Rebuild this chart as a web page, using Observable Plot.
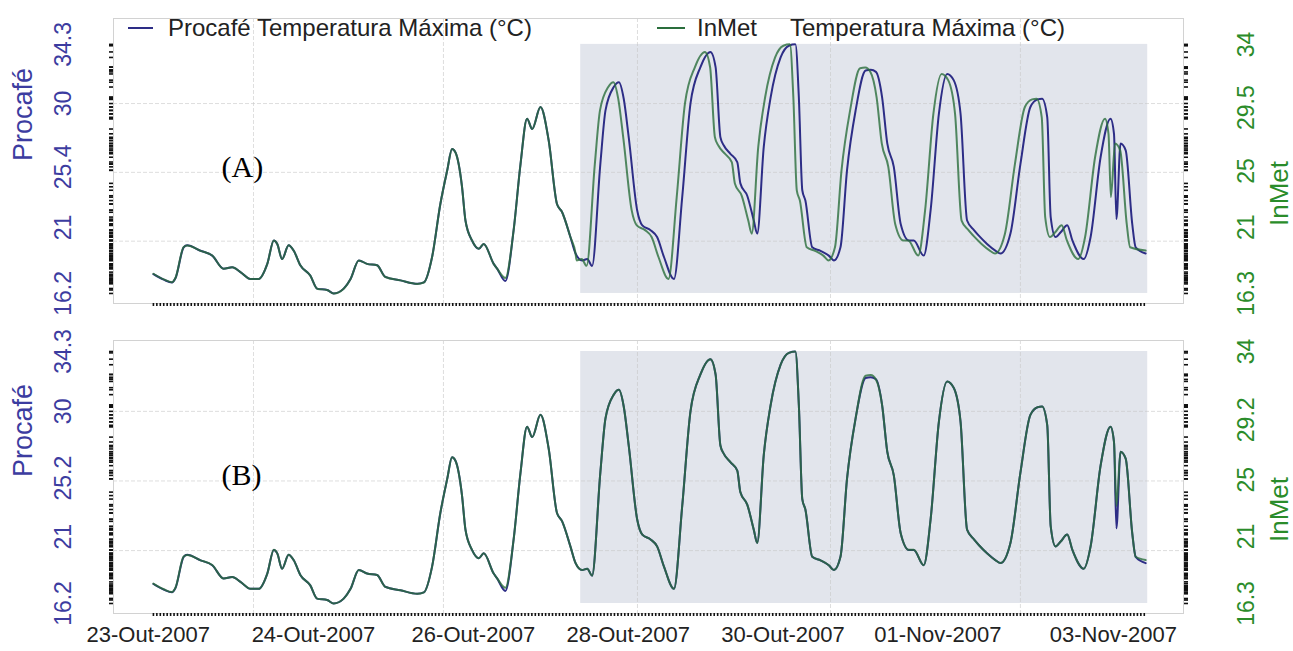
<!DOCTYPE html>
<html><head><meta charset="utf-8">
<script src="https://cdn.jsdelivr.net/npm/d3@7"></script>
<script src="https://cdn.jsdelivr.net/npm/@observablehq/plot@0.6"></script>
<style>
body{margin:0;background:#fff;}
#wrap{position:relative;width:1293px;height:651px;overflow:hidden;font-family:"Liberation Sans",Arial,sans-serif;}
#wrap svg{display:block}
.leg{position:absolute;font-size:24px;color:#222;white-space:nowrap;line-height:24px}
.sw{position:absolute;height:0;border-top:2px solid}
</style></head><body><div id="wrap"></div>
<script>
// hours since 23-Out-2007 00:00 (vertices)
const hours = [0,3.0,5.4,6.4,8.8,9.8,13.7,17.1,20.4,22.9,25.3,28.2,30.6,33.1,35.0,36.0,37.4,39.3,40.8,42.7,45.6,47.6,50.5,52.4,55.3,57.3,59.7,62.1,65.0,67.4,71.8,76.7,78.6,81.0,83.4,85.4,86.8,87.8,89.7,90.7,92.6,94.6,96.0,98.9,99.9,102.3,104.7,106.7,108.6,110.1,112.5,114.9,117.3,118.8,121.2,122.7,
124.6,126.1,127.5,129.9,131.4,133.8,135.3,136.7,138.2,140.6,142.1,144.5,146.4,148.4,151.3,153.7,156.1,159.0,161.9,163.4,164.8,165.8,167.7,169.7,170.6,172.6,174.5,175.5,177.4,179.4,182.3,184.7,186.6,187.6,188.6,189.5,191.5,193.9,196.3,197.8,199.7,201.6,204.1,207.0,208.5,210.0,211.8,213.3,215.2,217.2,219.6,221.0,223.9,225.9,228.3,230.7,232.6,234.6,236.5,238.5,239.9,242.3,244.8,246.2,249.1,252.0,254.9,257.0,258.3,259.8,260.8,262.2,263.7,265.6,267.1,270.4,272.4,275.3,278.2,279.2,279.9,281.1,282.6,284.5,285.5,288.4];
// Procafé temperatura máxima (°C)
const procafe = [17.6,17.2,17.0,17.3,19.55,19.7,19.3,18.95,18.0,18.1,17.75,17.25,17.25,18.35,20.05,19.8,18.7,19.7,19.3,18.25,17.5,16.55,16.45,16.2,16.55,17.25,18.6,18.35,18.25,17.4,17.15,16.9,17.0,18.85,22.7,25.15,26.7,26.45,23.95,21.5,20.05,19.45,19.8,18.35,18.0,17.1,20.8,25.6,28.9,28.15,29.75,27.3,22.7,22.1,20.3,19.1,
18.6,18.7,18.2,25.6,29.5,31.2,31.55,30.35,27.45,22.25,21.15,20.8,20.3,18.85,17.25,23.2,30.0,32.65,33.75,32.65,27.55,26.95,26.35,25.75,24.2,23.3,21.5,20.55,26.85,30.45,33.35,34.2,34.3,30.45,23.7,22.95,19.55,19.3,18.95,18.6,19.55,25.15,29.5,32.4,32.45,32.3,30.45,27.1,25.4,21.25,20.05,20.05,18.95,22.25,29.25,32.15,31.7,29.25,21.5,20.8,20.4,19.8,19.3,19.1,20.55,25.6,29.75,30.3,30.35,29.0,21.75,20.3,20.65,21.15,20.05,18.7,20.3,26.1,28.9,27.8,21.6,27.1,26.6,21.25,19.55,19.1];
// InMet temperatura máxima (°C)
const inmet = [17.7,17.3,17.1,17.4,19.6,19.7,19.33,19.0,18.05,18.16,17.82,17.33,17.33,18.4,20.07,19.82,18.74,19.72,19.33,18.3,17.57,16.64,16.54,16.3,16.64,17.33,18.65,18.4,18.3,17.47,17.23,16.98,17.08,18.89,22.66,25.05,26.57,26.32,23.88,21.48,20.07,19.48,19.82,18.4,18.06,17.4,20.8,25.49,28.72,27.99,29.55,27.15,22.66,22.07,20.31,19.14,
18.65,18.74,18.26,25.49,29.31,30.97,31.31,30.14,27.3,22.22,21.14,20.8,20.31,18.89,17.33,23.15,29.8,32.39,33.46,32.39,27.4,26.81,26.23,25.64,24.12,23.24,21.48,20.55,26.71,30.24,33.07,33.9,34.0,30.24,23.63,22.9,19.58,19.33,18.99,18.65,19.58,25.05,29.31,32.3,32.35,32.04,30.24,26.96,25.3,21.24,20.07,20.07,18.99,22.22,29.06,31.9,31.46,29.06,21.48,20.8,20.41,19.82,19.33,19.14,20.55,25.49,29.55,30.09,30.14,28.82,21.73,20.31,20.65,21.14,20.07,18.74,20.31,25.98,28.72,27.64,23.15,26.96,26.47,21.24,19.58,19.35];
// InMet time stamps as drawn in panel (A)
const inmetHoursA = [0,3.0,5.4,6.4,8.8,9.8,13.7,17.1,20.4,22.9,25.3,28.2,30.6,33.1,35.0,36.0,37.4,39.3,40.8,42.7,45.6,47.6,50.5,52.4,55.3,57.3,59.7,62.1,65.0,67.4,71.8,76.7,78.6,81.0,83.4,85.4,86.8,87.8,89.7,90.7,92.6,94.6,96.0,98.9,99.9,102.3,104.7,106.7,108.6,110.1,112.5,114.9,117.3,118.8,121.2,122.7,
123.0,124.5,125.9,128.3,129.8,132.2,133.7,135.1,136.6,139.0,140.5,142.9,144.8,146.8,149.7,152.1,154.5,157.4,160.3,161.8,163.2,164.2,166.1,168.1,169.0,171.0,172.9,173.9,175.8,177.8,180.7,183.1,185.0,186.0,187.0,187.9,189.9,192.3,194.7,196.2,198.1,200.0,202.5,205.4,206.9,208.4,210.2,211.7,213.6,215.6,218.0,219.4,222.3,224.3,226.7,229.1,231.0,233.0,234.9,236.9,238.3,240.7,243.2,244.6,247.5,250.4,253.3,255.4,256.7,258.2,259.2,260.6,262.1,264.0,265.5,268.8,270.8,273.7,276.6,277.6,278.3,279.5,281.0,282.9,283.9,288.4];

const leftTicksA = [16.2, 21, 25.4, 30, 34.3];
const rightTicksA = [16.3, 21, 25, 29.5, 34];
const leftTicksB = [16.2, 21, 25.2, 30, 34.3];
const rightTicksB = [16.3, 21, 25, 29.2, 34];
const leftRange = [16.2, 34.3];
const rightRange = [16.3, 34];
const xTickHours = [-1.5, 46.5, 93, 138, 183, 228, 279];
const xTickLabels = ["23-Out-2007","24-Out-2007","26-Out-2007","28-Out-2007","30-Out-2007","01-Nov-2007","03-Nov-2007"];
const gridHours = [29.1, 84.3, 140.7, 196.8, 252];
const gridTemps = [20, 25, 30];
const shadeHours = [124.2, 289];
const rugHours = d3.range(0, 289);

const BLUE = "#3c3ca0", GREEN = "#2a8c2a";
const inmetToLeft = d3.scaleLinear(rightRange, leftRange);
const labelByHour = new Map(xTickHours.map((h, i) => [h, xTickLabels[i]]));
const shade = [{x1: shadeHours[0], x2: shadeHours[1], y1: leftRange[0], y2: leftRange[1]}];

function panel({height, marginTop, marginBottom, yDomain, pHours, iHours, leftTicks, rightTicks, tag, tagDy, showX}) {
  const P = pHours.map((h, i) => ({h, v: procafe[i]}));
  const I = iHours.map((h, i) => ({h, v: inmet[i]}));
  const marks = [
    Plot.rect(shade, {x1: "x1", x2: "x2", y1: "y1", y2: "y2", fill: "#e2e5ec"}),
    Plot.gridX(gridHours, {stroke: "#c8c8c8", strokeOpacity: 0.6, strokeDasharray: "4,2"}),
    Plot.gridY(gridTemps, {stroke: "#c8c8c8", strokeOpacity: 0.6, strokeDasharray: "4,2"}),
    Plot.frame({stroke: "#d2d2d2"}),
    Plot.line(P, {x: "h", y: "v", curve: "monotone-x", stroke: "#2d2d86", strokeWidth: 2}),
    Plot.line(I, {x: "h", y: d => inmetToLeft(d.v), curve: "monotone-x", stroke: "#2a6e3c", strokeWidth: 2, strokeOpacity: 0.8}),
    Plot.axisY(procafe, {anchor: "left", tickSize: 4, strokeWidth: 1.6, stroke: "#111", tickFormat: () => ""}),
    Plot.axisY(inmet.map(v => inmetToLeft(v)), {anchor: "right", tickSize: 4, strokeWidth: 1.6, stroke: "#111", tickFormat: () => ""}),
    Plot.axisX(rugHours, {anchor: "bottom", tickSize: 3, strokeWidth: 1.6, stroke: "#111", tickFormat: () => ""}),
    Plot.axisY(leftTicks, {anchor: "left", tickSize: 0, tickPadding: 43, tickRotate: -90, fontSize: 23, fill: BLUE, tickFormat: d => String(d)}),
    Plot.axisY(rightTicks.map(v => inmetToLeft(v)), {anchor: "right", tickSize: 0, tickPadding: 70, tickRotate: -90, fontSize: 23, fill: GREEN, tickFormat: d => String(+inmetToLeft.invert(d).toFixed(1))}),
    Plot.text(["Procafé"], {frameAnchor: "left", dx: -90, rotate: -90, fontSize: 27, fill: BLUE}),
    Plot.text(["InMet"], {frameAnchor: "right", dx: 96, rotate: -90, fontSize: 26, fill: GREEN}),
    Plot.text([tag], {frameAnchor: "top-left", dx: 108, dy: tagDy, fontSize: 30, fontFamily: "Liberation Serif, 'Times New Roman', serif", fill: "#000"})
  ];
  if (showX) marks.push(Plot.axisX(xTickHours, {anchor: "bottom", tickSize: 0, tickPadding: 13, fontSize: 22, fill: "#222", tickFormat: d => labelByHour.get(d)}));
  return Plot.plot({
    width: 1293, height, marginLeft: 113, marginRight: 110, marginTop, marginBottom,
    x: {domain: [-11.6, 299.4], label: null},
    y: {domain: yDomain, label: null},
    style: {fontFamily: "'Liberation Sans', Arial, sans-serif", background: "white", overflow: "visible"},
    marks
  });
}

const wrap = document.getElementById("wrap");
wrap.append(panel({height: 320, marginTop: 18, marginBottom: 17, yDomain: [15.47, 36.18], pHours: hours, iHours: inmetHoursA, leftTicks: leftTicksA, rightTicks: rightTicksA, tag: "(A)", tagDy: 137, showX: false}));
wrap.append(panel({height: 331, marginTop: 20, marginBottom: 38, yDomain: [15.48, 35.09], pHours: hours, iHours: hours, leftTicks: leftTicksB, rightTicks: rightTicksB, tag: "(B)", tagDy: 123, showX: true}));

// legend (inside panel A, top)
const legend = [
  {cls: "sw", left: 128, top: 27, width: 25, color: "#2d2d86"},
  {cls: "leg", left: 168, top: 16, text: "Procafé Temperatura Máxima (°C)"},
  {cls: "sw", left: 657, top: 27, width: 28, color: "#2a6e3c"},
  {cls: "leg", left: 697, top: 16, text: "InMet"},
  {cls: "leg", left: 790, top: 16, text: "Temperatura Máxima (°C)"}
];
for (const l of legend) {
  const d = document.createElement("div");
  d.className = l.cls;
  d.style.left = l.left + "px"; d.style.top = l.top + "px";
  if (l.width) { d.style.width = l.width + "px"; d.style.borderTopColor = l.color; }
  if (l.text) d.textContent = l.text;
  wrap.append(d);
}
</script></body></html>
